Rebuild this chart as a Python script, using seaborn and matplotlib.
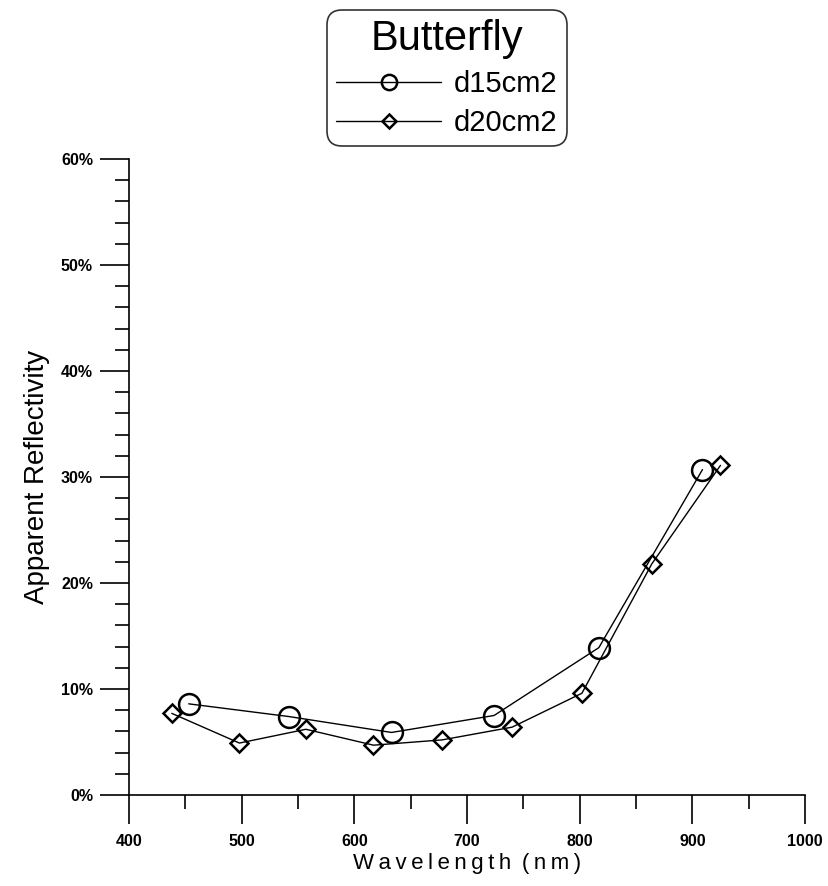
import matplotlib
matplotlib.use("Agg")
import matplotlib.pyplot as plt
import seaborn as sns
import pandas as pd
from matplotlib.ticker import MultipleLocator, PercentFormatter

# Apparent reflectivity of a butterfly sample at two distances
wl_d15 = [453, 542, 633, 724, 817, 909]
refl_d15 = [8.6, 7.4, 5.9, 7.5, 13.9, 30.7]

wl_d20 = [438, 498, 557, 617, 678, 740, 802, 864, 925]
refl_d20 = [7.7, 4.9, 6.2, 4.7, 5.2, 6.4, 9.6, 21.8, 31.1]

legend_title = "Butterfly"
series_labels = ["d15cm2", "d20cm2"]

sns.set_theme(style="ticks")
plt.rcParams["font.family"] = ["Liberation Sans", "DejaVu Sans"]
plt.rcParams["text.color"] = "black"

W, H = 829, 886
fig = plt.figure(figsize=(W / 100, H / 100), dpi=100)
ax = fig.add_axes([129 / W, 1 - 795 / H, (805 - 129) / W, (795 - 159) / H])

df15 = pd.DataFrame({"wl": wl_d15, "r": refl_d15})
df20 = pd.DataFrame({"wl": wl_d20, "r": refl_d20})

sns.lineplot(data=df15, x="wl", y="r", ax=ax, color="black", lw=1.0,
             marker="o", markersize=15, markerfacecolor="none",
             markeredgecolor="black", markeredgewidth=1.8,
             label=series_labels[0], sort=False)
sns.lineplot(data=df20, x="wl", y="r", ax=ax, color="black", lw=1.0,
             marker="D", markersize=9.5, markerfacecolor="none",
             markeredgecolor="black", markeredgewidth=1.8,
             label=series_labels[1], sort=False)

ax.set_xlim(400, 1000)
ax.set_ylim(0, 60)
ax.xaxis.set_major_locator(MultipleLocator(100))
ax.xaxis.set_minor_locator(MultipleLocator(50))
ax.yaxis.set_major_locator(MultipleLocator(10))
ax.yaxis.set_minor_locator(MultipleLocator(2))
ax.yaxis.set_major_formatter(PercentFormatter(decimals=0))

for side in ("top", "right"):
    ax.spines[side].set_visible(False)
for side in ("left", "bottom"):
    ax.spines[side].set_color("black")
    ax.spines[side].set_linewidth(1.2)

ax.tick_params(which="major", direction="out", length=21, width=1.2,
               color="black", labelsize=11.5, labelcolor="black")
ax.tick_params(axis="y", which="major", pad=5)
ax.tick_params(axis="x", which="major", pad=7)
ax.tick_params(which="minor", direction="out", length=10, width=1.2,
               color="black")
for lbl in ax.get_xticklabels() + ax.get_yticklabels():
    lbl.set_fontweight("bold")

ax.set_xlabel("W\u2009a\u2009v\u2009e\u2009l\u2009e\u2009n\u2009g\u2009t\u2009h\u2009 (\u2009n\u2009m\u2009)",
              fontsize=16, color="black", labelpad=3)
ax.set_ylabel("Apparent Reflectivity", fontsize=20, color="black", labelpad=8)

leg = ax.legend(title=legend_title, loc="upper center",
                bbox_to_anchor=(447 / W, 1 - 10 / H),
                bbox_transform=fig.transFigure,
                fontsize=21, title_fontsize=30, frameon=True, fancybox=True,
                edgecolor="black", handlelength=3.6,
                borderpad=0.3, labelspacing=0.38, handletextpad=0.45,
                borderaxespad=0)
leg.get_frame().set_linewidth(1.2)
leg.get_frame().set_facecolor("white")
leg.get_frame().set_boxstyle("round", pad=0, rounding_size=0.5)
leg.get_title().set_color("black")
for t in leg.get_texts():
    t.set_color("black")
for h, ms in zip(leg.legend_handles, (11, 7)):
    h.set_markersize(ms)
    h.set_markeredgewidth(1.8)

fig.savefig("out.png", dpi=100, facecolor="white")
